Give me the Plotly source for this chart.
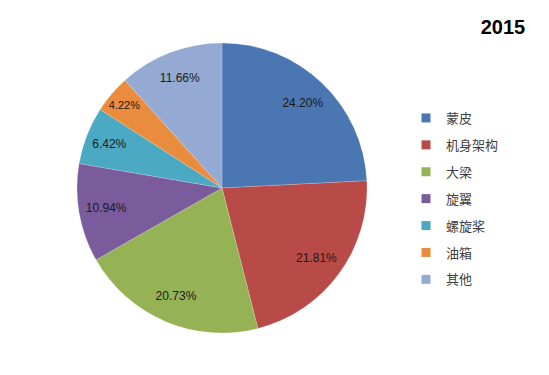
import plotly.graph_objects as go

categories = ["蒙皮", "机身架构", "大梁", "旋翼", "螺旋桨", "油箱", "其他"]
shares = [24.20, 21.81, 20.73, 10.94, 6.42, 4.22, 11.66]
colors = ["#4A76B2", "#B84A47", "#95B255", "#7A5C9D", "#4BA9C3", "#E98C3E", "#94AAD3"]
title_text = "2015"

W, H = 549, 375
OFF = 8  # page body margin in the browser
cx, cy, r = 222 - OFF, 188 - OFF, 145
dom = dict(x=[(cx - r) / W, (cx + r) / W], y=[(H - cy - r) / H, (H - cy + r) / H])

fig = go.Figure()
# coloured pie
fig.add_trace(go.Pie(
    labels=categories, values=shares, sort=False, direction="clockwise", rotation=0,
    marker=dict(colors=colors, line=dict(color="rgba(255,255,255,0.35)", width=0.5)),
    textinfo="none", showlegend=False, hoverinfo="label+value", domain=dom,
))
# transparent ring on top carrying the percentage labels (placed further out)
fig.add_trace(go.Pie(
    labels=categories, values=shares, sort=False, direction="clockwise", rotation=0,
    hole=0.62,
    marker=dict(colors=["rgba(0,0,0,0)"] * len(categories), line=dict(width=0)),
    texttemplate="%{value:.2f}%", textposition="inside", insidetextorientation="horizontal",
    textfont=dict(family="Liberation Sans, Arial, sans-serif", size=12, color="#1a1a1a"),
    showlegend=False, hoverinfo="skip", domain=dom,
))

# legend entries (one per category, in the pie's colours)
for i, (name, col) in enumerate(zip(categories, colors)):
    fig.add_trace(go.Scatter(
        x=[None], y=[None], mode="markers", name=name,
        marker=dict(symbol="square", size=9, color=col),
        legendgroup=f"g{i}", showlegend=True, hoverinfo="skip",
    ))

fig.update_layout(
    width=W, height=H,
    margin=dict(l=0, r=0, t=0, b=0),
    paper_bgcolor="white", plot_bgcolor="white",
    xaxis=dict(visible=False), yaxis=dict(visible=False),
    title=dict(text=title_text, x=(503 - OFF) / W, xanchor="center", y=1 - (27 - OFF) / H, yanchor="middle",
               font=dict(family="Liberation Sans, Arial, sans-serif", size=20, color="#000000", weight="bold")),
    legend=dict(
        x=(406 - OFF) / W, xanchor="left", y=1 - (103 - OFF) / H, yanchor="top",
        font=dict(family="Noto Sans CJK SC, sans-serif", size=13, color="#404040"),
        tracegroupgap=7, itemwidth=30, bgcolor="rgba(0,0,0,0)",
    ),
)

fig.write_html("out.html")
